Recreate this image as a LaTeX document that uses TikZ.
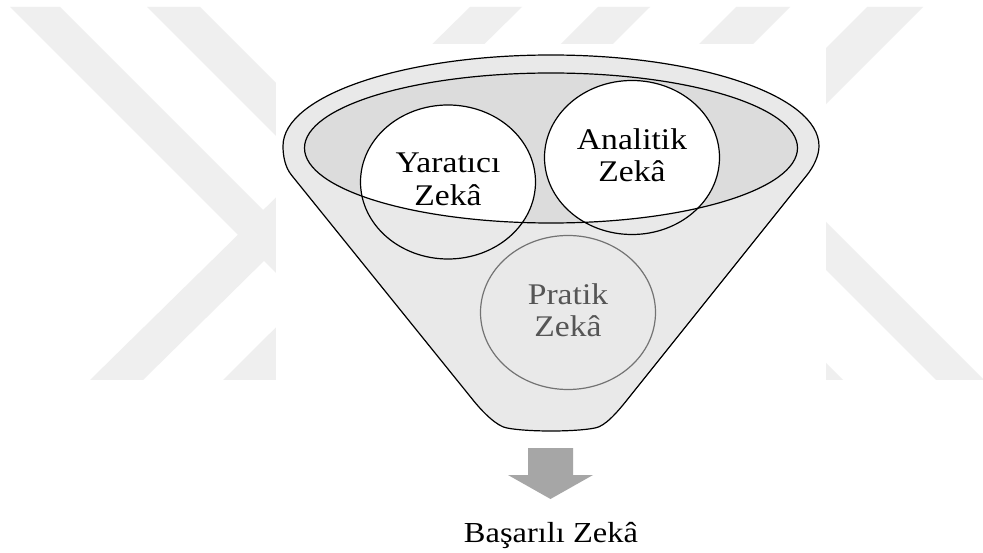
\documentclass[tikz,border=0pt]{standalone}
\usepackage{fontspec}
\setmainfont[FakeStretch=1.12]{Liberation Serif}
\usetikzlibrary{shapes.geometric}
\definecolor{wmgray}{RGB}{239,239,239}
\definecolor{funnelfill}{RGB}{233,233,233}
\definecolor{innerfill}{RGB}{220,220,220}
\definecolor{pratikline}{RGB}{115,115,115}
\definecolor{pratiktext}{RGB}{85,85,85}
\definecolor{arrowgray}{RGB}{166,166,166}
\tikzset{
  outline/.style={draw=black, line width=1.2pt},
  bubble/.style={ellipse, draw=black, line width=1.2pt, minimum width=175pt, minimum height=154pt, inner sep=0pt},
  bubbletext/.style={align=center, inner sep=0pt, font=\fontsize{30}{32.5}\selectfont},
  wmband/.style={fill=wmgray, draw=none}
}
\begin{document}
\begin{tikzpicture}[x=1pt,y=-1pt]
\useasboundingbox (0,0) rectangle (983,553);
\fill[white] (0,0) rectangle (983,553);
% watermark
\begin{scope}
\clip (0,7) rectangle (983,380);
\fill[wmband] (10,7) -- (60,7) -- (433,380) -- (383,380) -- cycle;
\fill[wmband] (147,7) -- (200,7) -- (573,380) -- (520,380) -- cycle;
\fill[wmband] (470,7) -- (522,7) -- (143,380) -- (90,380) -- cycle;
\fill[wmband] (598,7) -- (650,7) -- (276,380) -- (223,380) -- cycle;
\fill[wmband] (736,7) -- (790,7) -- (417,380) -- (363,380) -- cycle;
\fill[wmband] (867,7) -- (923,7) -- (550,380) -- (494,380) -- cycle;
\fill[wmband] (706,150) -- (754,150) -- (984,380) -- (936,380) -- cycle;
\fill[wmband] (565,150) -- (613,150) -- (843,380) -- (795,380) -- cycle;
\end{scope}
\fill[white] (276,44) rectangle (826,380);
% funnel
\path[outline, fill=funnelfill] (283,146) arc[start angle=180, end angle=360, x radius=268, y radius=91]
  .. controls (819,156) and (813.4,167) .. (807,175)
  -- (627,400) .. controls (617.4,412) and (605,426.5) .. (595,428)
  .. controls (575,432) and (527,432) .. (507,428)
  .. controls (497,426.5) and (482.6,412) .. (473,400)
  -- (291.4,175) .. controls (285,167) and (283,156) .. cycle;
% inner ellipse
\fill[innerfill] (551,148) ellipse[x radius=246.5, y radius=75];
\begin{scope}
\clip (551,148) ellipse[x radius=246.5, y radius=75];
\fill[white] (448,182) ellipse[x radius=87.5, y radius=77];
\fill[white] (632,157.5) ellipse[x radius=87.5, y radius=77];
\end{scope}
\draw[outline] (551,148) ellipse[x radius=246.5, y radius=75];
% bubbles
\node[bubble] (yar) at (448,182) {};
\node[bubble] (ana) at (632,157.5) {};
\node[bubble, draw=pratikline] (pra) at (568,312.5) {};
\node[bubbletext] (yart) at ([yshift=2.5pt]yar.center) {Yaratıcı\\Zekâ};
\node[bubbletext] (anat) at ([yshift=2.5pt]ana.center) {Analitik\\Zekâ};
\node[bubbletext, text=pratiktext] (prat) at ([yshift=2.5pt]pra.center) {Pratik\\Zekâ};
% arrow
\coordinate (arrtop) at (550.5,448);
\fill[arrowgray] (arrtop) ++(-22.5,0) -- ++(45,0) -- ++(0,27) -- ++(20,0) -- (550.5,499) -- (508,475) -- (528,475) -- cycle;
\node[anchor=base, inner sep=0pt, font=\fontsize{29}{32}\selectfont] (res) at (551,542) {Başarılı Zekâ};
\end{tikzpicture}
\end{document}
